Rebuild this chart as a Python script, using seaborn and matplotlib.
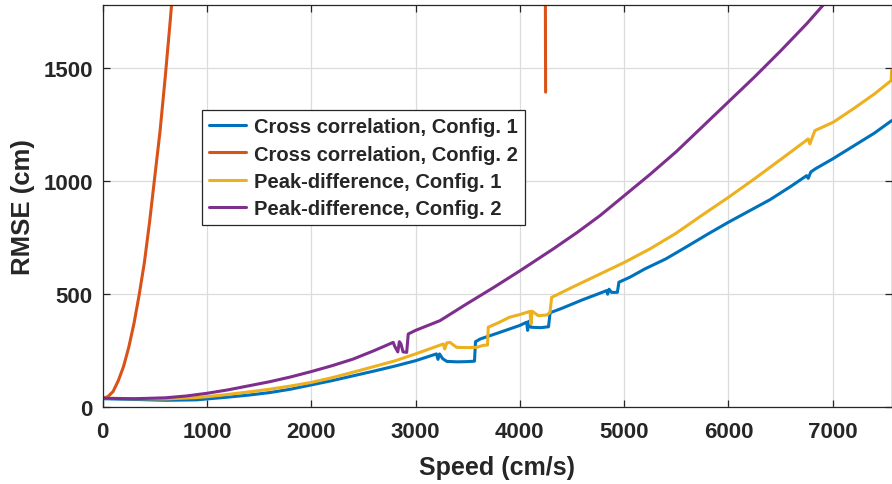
import matplotlib
matplotlib.use("Agg")
import numpy as np
import pandas as pd
import matplotlib.pyplot as plt
from matplotlib.lines import Line2D
import seaborn as sns

# ---- data: RMSE (cm) versus speed (cm/s) ----
cc1_speed = [0, 300, 600, 900, 1000, 1200, 1400, 1600, 1800, 2000, 2200, 2400, 2600, 2800,
             3000, 3100, 3200, 3215, 3230, 3260, 3300, 3400, 3500, 3565, 3575, 3620, 3800,
             4000, 4065, 4075, 4085, 4105, 4200, 4275, 4290, 4400, 4600, 4800, 4832, 4842,
             4855, 4880, 4935, 4950, 5055, 5200, 5400, 5600, 5800, 6000, 6200, 6400, 6600,
             6750, 6765, 6790, 6830, 7000, 7200, 7400, 7565]
cc1_rmse = [38, 35, 31, 33, 37, 45, 54, 65, 80, 99, 118, 139, 160, 182,
            206, 221, 236, 212, 236, 215, 203, 201, 202, 204, 290, 302, 330,
            362, 376, 340, 380, 354, 352, 356, 418, 437, 475, 510, 516, 500,
            522, 508, 508, 553, 575, 612, 656, 710, 765, 818, 868, 918, 977,
            1024, 1012, 1040, 1053, 1098, 1155, 1212, 1267]

cc2_speed_a = [0, 50, 100, 150, 200, 250, 300, 350, 400, 450, 500, 550, 600, 650, 700]
cc2_rmse_a = [40, 47, 70, 118, 180, 265, 370, 497, 640, 820, 1020, 1220, 1460, 1720, 2000]
cc2_speed_b = [4244, 4247]
cc2_rmse_b = [2000, 1393]

pd1_speed = [0, 300, 600, 900, 1000, 1200, 1400, 1600, 1800, 2000, 2200, 2400, 2600, 2800,
             3000, 3266, 3280, 3300, 3330, 3394, 3500, 3586, 3650, 3690, 3697, 3800, 3900,
             4000, 4097, 4107, 4117, 4177, 4260, 4289, 4305, 4500, 4768, 5000, 5247, 5500,
             5750, 6000, 6250, 6500, 6765, 6781, 6829, 7005, 7200, 7400, 7560, 7565]
pd1_rmse = [40, 38, 37, 43, 47, 57, 68, 80, 94, 110, 131, 155, 180, 205,
            236, 280, 258, 285, 287, 265, 264, 265, 274, 275, 354, 375, 398,
            410, 424, 368, 425, 405, 408, 420, 486, 530, 589, 640, 700, 770,
            850, 928, 1010, 1095, 1186, 1164, 1223, 1260, 1320, 1385, 1444, 1490]

pd2_speed = [0, 300, 600, 800, 1000, 1200, 1400, 1600, 1800, 2000, 2200, 2400, 2600, 2786,
             2800, 2830, 2845, 2860, 2880, 2915, 2930, 3000, 3234, 3490, 3750, 4000, 4320,
             4550, 4768, 5000, 5250, 5500, 5750, 6000, 6250, 6500, 6750, 6909, 7000]
pd2_rmse = [40, 38, 42, 50, 62, 77, 95, 113, 134, 158, 184, 213, 250, 287,
            270, 245, 290, 280, 245, 243, 324, 340, 383, 457, 530, 603, 700,
            773, 847, 935, 1030, 1130, 1240, 1350, 1460, 1575, 1695, 1778, 1820]

labels = ["Cross correlation, Config. 1", "Cross correlation, Config. 2",
          "Peak-difference, Config. 1", "Peak-difference, Config. 2"]
colors = ["#0072BD", "#D95319", "#EDB120", "#7E2F8E"]

x_ticks = [0, 1000, 2000, 3000, 4000, 5000, 6000, 7000]
y_ticks = [0, 500, 1000, 1500]

# ---- long-form table, one unit per drawn segment ----
segments = [
    (labels[0], 0, cc1_speed, cc1_rmse),
    (labels[1], 1, cc2_speed_a, cc2_rmse_a),
    (labels[1], 2, cc2_speed_b, cc2_rmse_b),
    (labels[2], 3, pd1_speed, pd1_rmse),
    (labels[3], 4, pd2_speed, pd2_rmse),
]
frames = []
for name, seg, xs, ys in segments:
    frames.append(pd.DataFrame({"speed": xs, "rmse": ys, "method": name, "seg": seg}))
df = pd.concat(frames, ignore_index=True)

sns.set_style("white")
plt.rcParams["font.family"] = ["Liberation Sans", "DejaVu Sans"]
plt.rcParams["font.weight"] = "bold"

fig = plt.figure(figsize=(8.92, 4.85), dpi=100)
ax = fig.add_axes([0.1151, 0.1581, 0.8845, 0.8295])

LW = 2.2
sns.lineplot(data=df, x="speed", y="rmse", hue="method", units="seg",
             estimator=None, sort=False, hue_order=labels,
             palette=dict(zip(labels, colors)), linewidth=LW,
             legend=False, ax=ax)

ax.set_xlim(0, 7565)
ax.set_ylim(0, 1778)
ax.set_xticks(x_ticks)
ax.set_yticks(y_ticks)
ax.set_xticklabels([str(t) for t in x_ticks], fontsize=16, fontweight="bold", color="#262626")
ax.set_yticklabels([str(t) for t in y_ticks], fontsize=16, fontweight="bold", color="#262626")

ax.grid(True, color="#dcdcdc", linewidth=0.9)
ax.set_axisbelow(True)
for side in ["left", "right", "top", "bottom"]:
    ax.spines[side].set_visible(True)
    ax.spines[side].set_color("#262626")
    ax.spines[side].set_linewidth(0.9)
ax.tick_params(axis="both", direction="in", length=5, width=0.9, color="#262626",
               top=True, right=True, bottom=True, left=True)
ax.tick_params(axis="x", pad=10)
ax.tick_params(axis="y", pad=7)

ax.set_xlabel("Speed (cm/s)", fontsize=18, fontweight="bold", color="#262626", labelpad=9)
ax.set_ylabel("RMSE (cm)", fontsize=18.5, fontweight="bold", color="#262626", labelpad=6)

handles = [Line2D([0], [0], color=c, linewidth=LW) for c in colors]
leg = fig.legend(handles, labels, loc="upper left",
                 bbox_to_anchor=(201.7 / 892, 1 - 111 / 485),
                 bbox_transform=fig.transFigure, frameon=True, fancybox=False,
                 prop={"size": 14.5, "weight": "bold"}, handlelength=1.85,
                 handletextpad=0.4, labelspacing=0.42, borderpad=0.35,
                 borderaxespad=0)
leg.get_frame().set_edgecolor("#262626")
leg.get_frame().set_linewidth(0.9)
leg.get_frame().set_alpha(1.0)

fig.savefig("out.png", dpi=100)
